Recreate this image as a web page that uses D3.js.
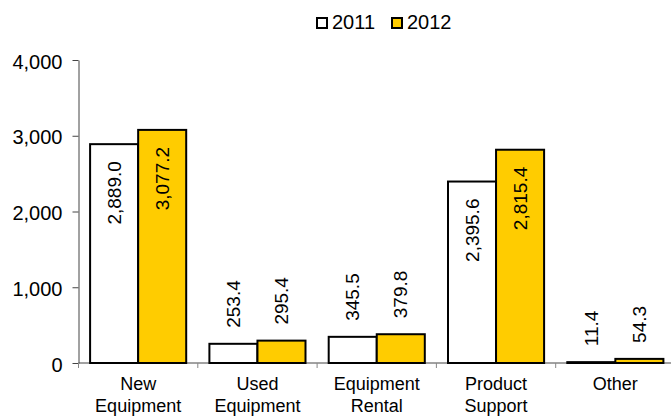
<!DOCTYPE html>
<html>
<head>
<meta charset="utf-8">
<script src="https://cdn.jsdelivr.net/npm/d3@7"></script>
<style>
  body { margin: 0; background: #fff; }
  svg { display: block; font-family: "Liberation Sans", Arial, sans-serif; }
</style>
</head>
<body>
<div id="chart"></div>
<script>
// data
var categories = [["New", "Equipment"], ["Used", "Equipment"], ["Equipment", "Rental"], ["Product", "Support"], ["Other"]];
var years = ["2011", "2012"];
var values2011 = [2889.0, 253.4, 345.5, 2395.6, 11.4];
var values2012 = [3077.2, 295.4, 379.8, 2815.4, 54.3];
var yTicks = [0, 1000, 2000, 3000, 4000];

var colors = { "2011": "#ffffff", "2012": "#ffcc00" };
var width = 671, height = 416;

var svg = d3.select("#chart").append("svg")
  .attr("width", width)
  .attr("height", height);

var keys = categories.map(function (c) { return c.join(" "); });

var x = d3.scaleBand().domain(keys).range([78.5, 675]).padding(0);
var xInner = d3.scaleBand().domain(years).range([11.6, x.bandwidth() - 11.6]).padding(0);
var y = d3.scaleLinear().domain([0, 4000]).range([363, 60]);

// y axis
var yAxis = svg.append("g")
  .attr("transform", "translate(" + x.range()[0] + ",0)")
  .call(d3.axisLeft(y).tickValues(yTicks).tickSize(6).tickSizeOuter(0).tickPadding(10)
    .tickFormat(d3.format(",")));
yAxis.select(".domain").attr("stroke", "#444");
yAxis.selectAll(".tick line").attr("stroke", "#444");
yAxis.selectAll(".tick text")
  .attr("font-size", 20)
  .attr("fill", "#000")
  .attr("dy", "0.4em");

// x axis line and boundary ticks
var base = svg.append("g");
base.append("line")
  .attr("x1", x.range()[0]).attr("x2", width)
  .attr("y1", y(0)).attr("y2", y(0))
  .attr("stroke", "#444");
base.selectAll("line.bnd")
  .data(keys)
  .enter().append("line")
  .attr("class", "bnd")
  .attr("x1", function (d) { return x(d); })
  .attr("x2", function (d) { return x(d); })
  .attr("y1", y(0)).attr("y2", y(0) + 5)
  .attr("stroke", "#888");

// bars
var rows = keys.map(function (k, i) {
  return { key: k, vals: [ { year: "2011", v: values2011[i] }, { year: "2012", v: values2012[i] } ] };
});

var groups = svg.selectAll("g.cat")
  .data(rows)
  .enter().append("g")
  .attr("class", "cat")
  .attr("transform", function (d) { return "translate(" + x(d.key) + ",0)"; });

groups.selectAll("rect")
  .data(function (d) { return d.vals; })
  .enter().append("rect")
  .attr("x", function (d) { return xInner(d.year); })
  .attr("y", function (d) { return y(d.v); })
  .attr("width", xInner.bandwidth())
  .attr("height", function (d) { return y(0) - y(d.v); })
  .attr("fill", function (d) { return colors[d.year]; })
  .attr("stroke", "#000")
  .attr("stroke-width", 2);

// value labels (rotated)
groups.selectAll("text.val")
  .data(function (d) { return d.vals; })
  .enter().append("text")
  .attr("class", "val")
  .attr("font-size", 19)
  .attr("fill", "#000")
  .attr("dy", "0.35em")
  .attr("text-anchor", function (d) { return d.v > 1000 ? "end" : "start"; })
  .attr("transform", function (d) {
    var cx = xInner(d.year) + xInner.bandwidth() / 2;
    var ty = d.v > 1000 ? y(d.v) + 17 : y(d.v) - 16;
    return "translate(" + cx + "," + ty + ") rotate(-90)";
  })
  .text(function (d) { return d3.format(",.1f")(d.v); });

// category labels
var labels = svg.selectAll("text.cat")
  .data(categories)
  .enter().append("text")
  .attr("class", "cat")
  .attr("font-size", 18)
  .attr("fill", "#000")
  .attr("text-anchor", "middle")
  .attr("x", function (d, i) { return x(keys[i]) + x.bandwidth() / 2; })
  .attr("y", y(0) + 27);
labels.selectAll("tspan")
  .data(function (d) { return d; })
  .enter().append("tspan")
  .attr("x", function () { return d3.select(this.parentNode).attr("x"); })
  .attr("dy", function (d, i) { return i === 0 ? 0 : 22; })
  .text(function (d) { return d; });

// legend
var legendX = [317, 392];
var legend = svg.selectAll("g.leg")
  .data(years)
  .enter().append("g")
  .attr("class", "leg")
  .attr("transform", function (d, i) { return "translate(" + legendX[i] + ",18)"; });
legend.append("rect")
  .attr("width", 10).attr("height", 10)
  .attr("fill", function (d) { return colors[d]; })
  .attr("stroke", "#000")
  .attr("stroke-width", 2);
legend.append("text")
  .attr("x", 15).attr("y", 11)
  .attr("font-size", 20)
  .attr("fill", "#000")
  .text(function (d) { return d; });
</script>
</body>
</html>
